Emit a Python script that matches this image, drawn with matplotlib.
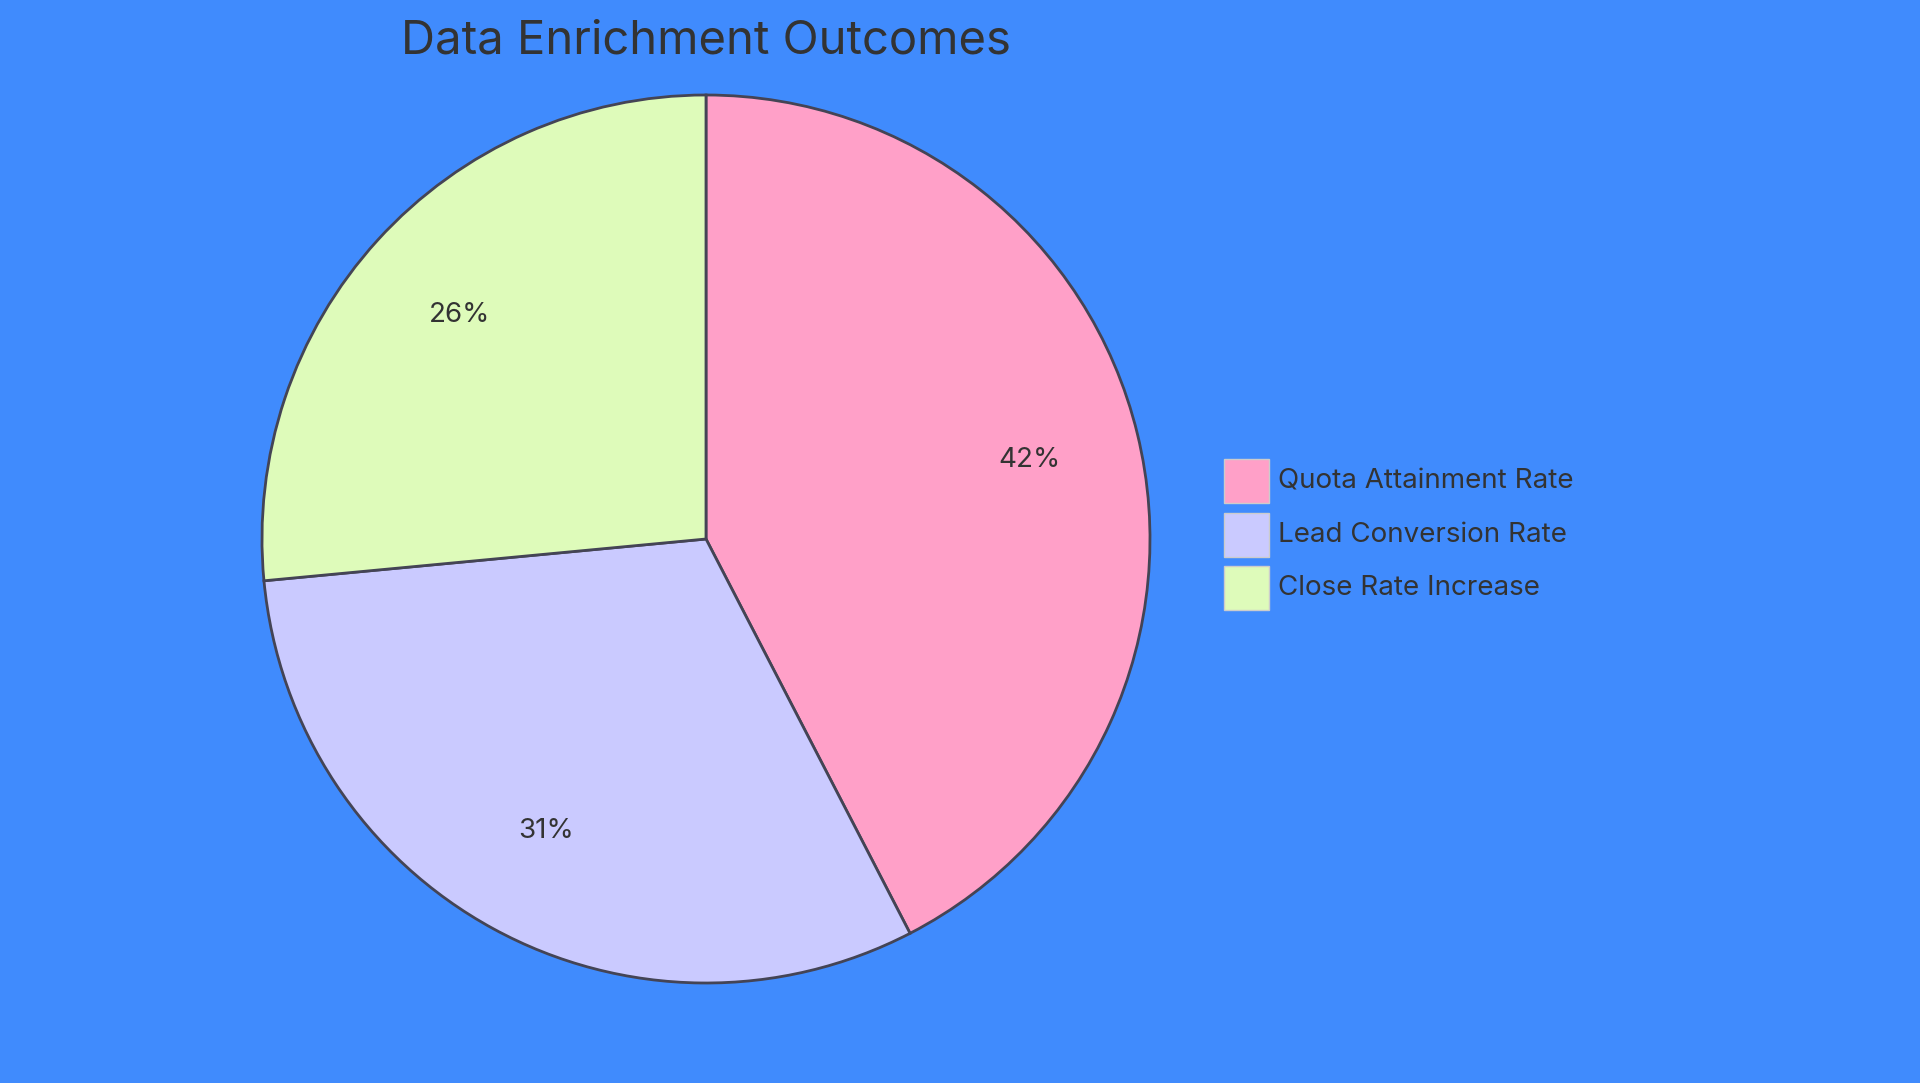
import matplotlib
matplotlib.use("Agg")
import matplotlib.pyplot as plt
from matplotlib.patches import Rectangle

labels = ["Quota Attainment Rate", "Lead Conversion Rate", "Close Rate Increase"]
values = [42.4, 31.1, 26.5]
colors = ["#FFA0C8", "#CACAFF", "#DEFBBA"]
title = "Data Enrichment Outcomes"

bg = "#408BFD"
txt = "#333333"
plt.rcParams['font.family'] = ['Inter', 'DejaVu Sans']

fig = plt.figure(figsize=(19.2, 10.83), dpi=100, facecolor=bg)
W, H = 1920, 1083
cx, cy, r = 706, 539, 444
ax = fig.add_axes([(cx - r) / W, (H - cy - r) / H, 2 * r / W, 2 * r / H])
ax.set_facecolor(bg)
wedges, texts, autotexts = ax.pie(values, colors=colors, startangle=90, counterclock=False,
       autopct=lambda p: f"{p:.0f}%", pctdistance=0.75,
       wedgeprops=dict(edgecolor="#444455", linewidth=2),
       textprops=dict(color=txt, fontsize=20))
for w in wedges:
    w.set_clip_on(False)
ax.set_xlim(-1, 1); ax.set_ylim(-1, 1)
ax.set_aspect('equal')
ax.axis('off')

fig.text(706 / W, 1 - 42 / H, title, ha='center', va='center', fontsize=34, color=txt)

rows = [481, 535, 588]
for lab, col, y in zip(labels, colors, rows):
    fig.patches.append(Rectangle(((1224) / W, 1 - (y + 22) / H), 45 / W, 44 / H,
                                 transform=fig.transFigure, facecolor=col,
                                 edgecolor="#CCCCCC", linewidth=1))
    fig.text(1278 / W, 1 - y / H, lab, ha='left', va='center', fontsize=20, color=txt)

fig.savefig("out.png", dpi=100, facecolor=bg)
